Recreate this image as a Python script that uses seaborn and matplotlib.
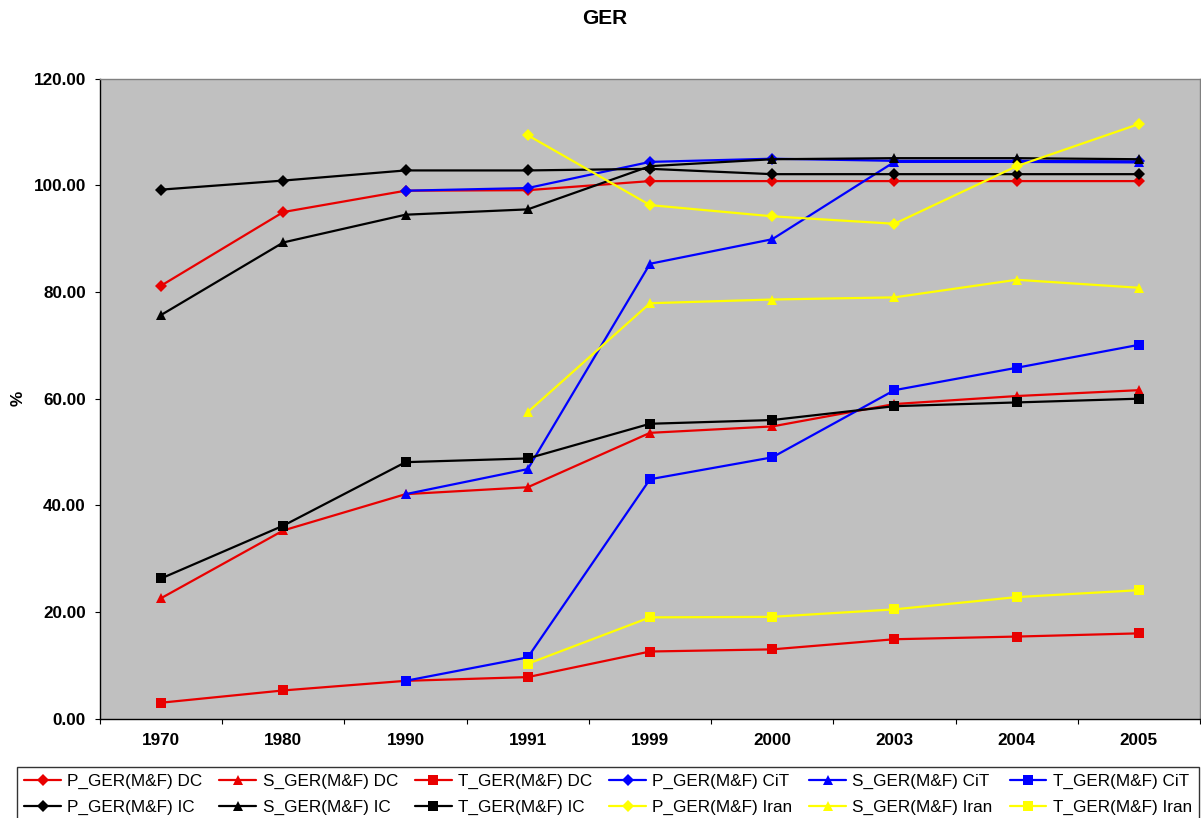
import numpy as np
import pandas as pd
import matplotlib
matplotlib.use("Agg")
import matplotlib.pyplot as plt
from matplotlib.ticker import FixedLocator, FormatStrFormatter
import seaborn as sns

years = ["1970", "1980", "1990", "1991", "1999", "2000", "2003", "2004", "2005"]
nan = np.nan

p_dc = [81.2, 95.0, 99.0, 99.1, 100.8, 100.8, 100.8, 100.8, 100.8]
s_dc = [22.6, 35.3, 42.1, 43.4, 53.6, 54.8, 59.0, 60.5, 61.6]
t_dc = [3.0, 5.3, 7.1, 7.8, 12.6, 13.0, 14.9, 15.4, 16.0]

p_cit = [nan, nan, 99.0, 99.5, 104.4, 105.0, 104.6, 104.6, 104.5]
s_cit = [nan, nan, 42.1, 46.8, 85.3, 89.9, 104.4, 104.4, 104.3]
t_cit = [nan, nan, 7.1, 11.5, 44.9, 49.0, 61.6, 65.8, 70.1]

p_ic = [99.2, 100.9, 102.8, 102.8, 103.1, 102.1, 102.1, 102.1, 102.1]
s_ic = [75.7, 89.3, 94.5, 95.5, 103.6, 104.9, 105.1, 105.1, 104.9]
t_ic = [26.3, 36.2, 48.1, 48.8, 55.3, 56.0, 58.6, 59.3, 60.0]

p_iran = [nan, nan, nan, 109.4, 96.3, 94.2, 92.8, 103.6, 111.5]
s_iran = [nan, nan, nan, 57.5, 77.9, 78.6, 79.0, 82.3, 80.8]
t_iran = [nan, nan, nan, 10.3, 19.0, 19.1, 20.5, 22.8, 24.1]

RED, BLUE, BLACK, YELLOW = "#E80000", "#0000FF", "#000000", "#FFFF00"

# drawing order: groups in turn, each with primary / secondary / tertiary
series = [
    ("P_GER(M&F) DC", p_dc, RED, "D"),
    ("S_GER(M&F) DC", s_dc, RED, "^"),
    ("T_GER(M&F) DC", t_dc, RED, "s"),
    ("P_GER(M&F) CiT", p_cit, BLUE, "D"),
    ("S_GER(M&F) CiT", s_cit, BLUE, "^"),
    ("T_GER(M&F) CiT", t_cit, BLUE, "s"),
    ("P_GER(M&F) IC", p_ic, BLACK, "D"),
    ("S_GER(M&F) IC", s_ic, BLACK, "^"),
    ("T_GER(M&F) IC", t_ic, BLACK, "s"),
    ("P_GER(M&F) Iran", p_iran, YELLOW, "D"),
    ("S_GER(M&F) Iran", s_iran, YELLOW, "^"),
    ("T_GER(M&F) Iran", t_iran, YELLOW, "s"),
]
marker_size = {"D": 6.5, "^": 7.8, "s": 7.3}

sns.set_theme(style="white")
plt.rcParams["font.family"] = ["Liberation Sans", "DejaVu Sans"]
plt.rcParams["text.color"] = "black"
plt.rcParams["xtick.color"] = "black"
plt.rcParams["ytick.color"] = "black"
plt.rcParams["xtick.labelcolor"] = "black"
plt.rcParams["ytick.labelcolor"] = "black"

fig = plt.figure(figsize=(12.01, 8.18), dpi=100)
ax = fig.add_axes([100 / 1201, 1 - 718.7 / 818, 1100 / 1201, 640 / 818])
ax.set_facecolor("#C0C0C0")

handles = {}
for name, vals, color, mk in series:
    df = pd.DataFrame({"pos": np.arange(len(years)), "val": vals}).dropna()
    sns.lineplot(data=df, x="pos", y="val", ax=ax, color=color, marker=mk,
                 markersize=marker_size[mk], markeredgecolor=color,
                 markeredgewidth=0, linewidth=1.6, label=name,
                 legend=False, sort=True)
    handles[name] = ax.lines[-1]

ax.set_xlim(-0.5, len(years) - 0.5)
ax.set_ylim(0, 120)

TICK_FS = 12.3

# category labels centred, tick marks between categories
ax.xaxis.set_major_locator(FixedLocator(np.arange(len(years))))
ax.set_xticklabels(years, fontsize=TICK_FS, fontweight="bold", color="black")
ax.xaxis.set_minor_locator(FixedLocator(np.arange(len(years) + 1) - 0.5))
ax.tick_params(axis="x", which="major", length=0, pad=10)
ax.tick_params(axis="x", which="minor", length=3.6, width=0.8, color="black",
               direction="out", bottom=True)

ax.set_yticks(np.arange(0, 121, 20))
ax.yaxis.set_major_formatter(FormatStrFormatter("%.2f"))
ax.tick_params(axis="y", which="major", length=3.6, width=0.8, color="black",
               direction="out", left=True, pad=6.5, labelsize=TICK_FS,
               labelcolor="black")
for lab in ax.get_yticklabels():
    lab.set_fontweight("bold")

ax.set_xlabel("")
ax.set_ylabel("")
fig.text(18 / 1201, 1 - 398 / 818, "%", rotation=90, fontsize=TICK_FS,
         fontweight="bold", ha="center", va="center", color="black")

for side in ("left", "bottom"):
    ax.spines[side].set_color("black")
    ax.spines[side].set_linewidth(1.0)
for side in ("top", "right"):
    ax.spines[side].set_color("#808080")
    ax.spines[side].set_linewidth(1.0)

fig.text(605 / 1201, 1 - 19 / 818, "GER", fontsize=15, fontweight="bold",
         ha="center", va="center", color="black")

# legend laid out row by row: DC / CiT on top, IC / Iran below
order = ["P_GER(M&F) DC", "P_GER(M&F) IC",
         "S_GER(M&F) DC", "S_GER(M&F) IC",
         "T_GER(M&F) DC", "T_GER(M&F) IC",
         "P_GER(M&F) CiT", "P_GER(M&F) Iran",
         "S_GER(M&F) CiT", "S_GER(M&F) Iran",
         "T_GER(M&F) CiT", "T_GER(M&F) Iran"]
leg_top = 1 - 767 / 818
leg = fig.legend([handles[n] for n in order], order, ncol=6,
                 loc="upper left", mode="expand",
                 bbox_to_anchor=(17 / 1201, leg_top - 0.2, 1182 / 1201, 0.2),
                 fontsize=TICK_FS, frameon=True, fancybox=False, shadow=False,
                 handlelength=2.15, handletextpad=0.37, columnspacing=0.8,
                 labelspacing=0.6, borderpad=0.42, borderaxespad=0)
leg.get_frame().set_edgecolor("black")
leg.get_frame().set_linewidth(1.0)
leg.get_frame().set_facecolor("white")
for t in leg.get_texts():
    t.set_color("black")

fig.savefig("out.png", dpi=100)
